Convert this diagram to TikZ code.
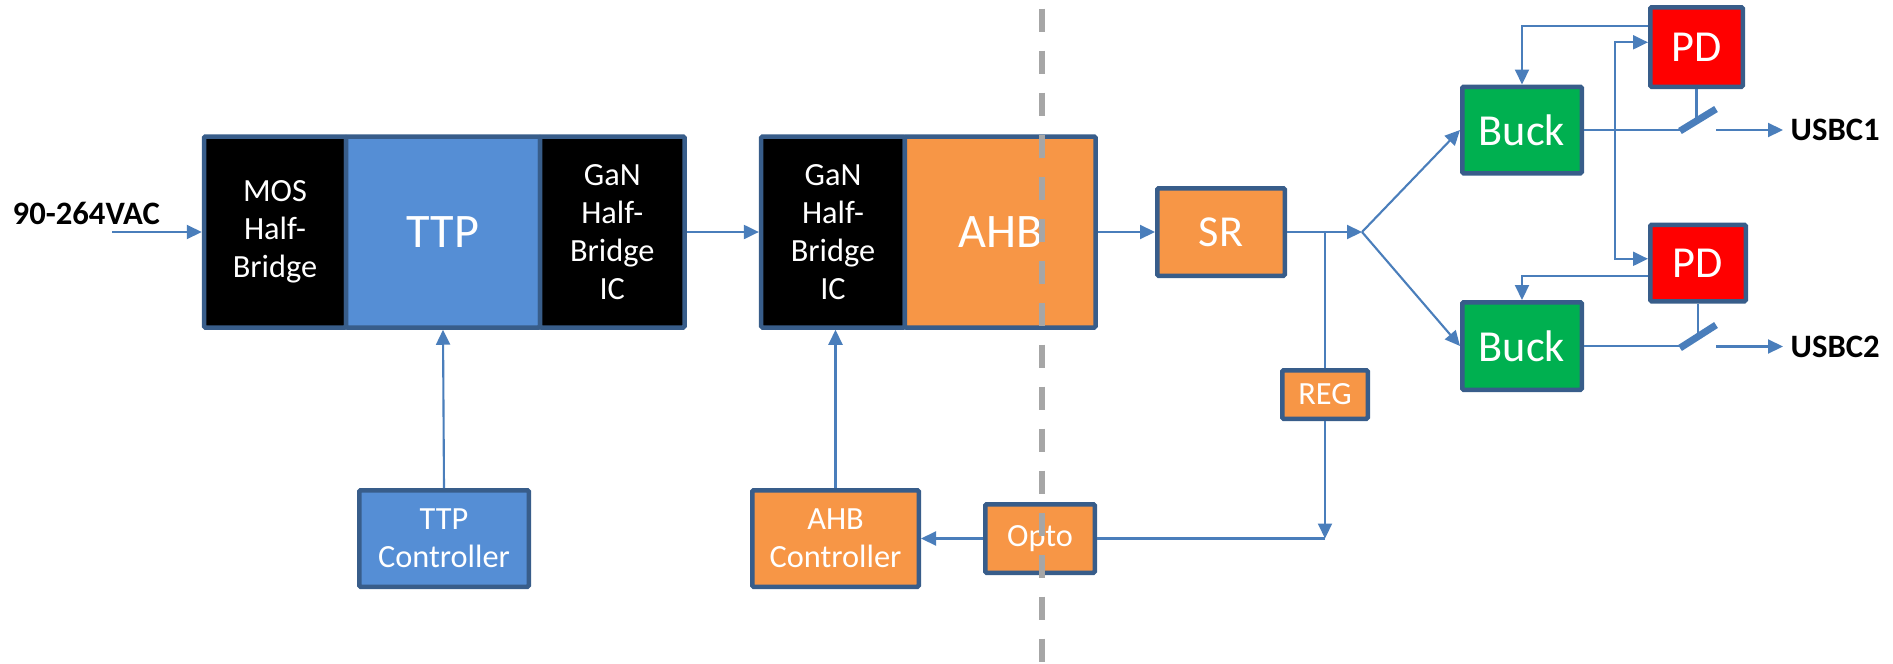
\documentclass[tikz,border=0pt]{standalone}
\usepackage{fontspec}
\setmainfont{Carlito}
\usetikzlibrary{positioning,arrows.meta}

\definecolor{linkblue}{HTML}{4A7EBB}
\definecolor{edgeblue}{HTML}{385D8A}
\definecolor{ttpblue}{HTML}{558ED5}
\definecolor{ahborange}{HTML}{F79646}
\definecolor{buckgreen}{HTML}{00B050}
\definecolor{pdred}{HTML}{FF0000}
\definecolor{isogray}{HTML}{A6A6A6}

\tikzset{
  box/.style={draw=edgeblue, line width=0.045cm, text=white, align=center, inner sep=0pt, rounded corners=0.4pt},
  bigtxt/.style={font=\fontsize{13.7}{16}\selectfont},
  midtxt/.style={font=\fontsize{12.6}{15}\selectfont},
  smalltxt/.style={font=\fontsize{9.2}{10.8}\selectfont},
  tinytxt/.style={font=\fontsize{9.2}{11}\selectfont},
  link/.style={draw=linkblue, line width=0.6pt},
  arr/.style={link, -{Triangle[length=0.15cm,width=0.14cm]}},
  blade/.style={draw=linkblue, line width=0.07cm},
  divider/.style={draw=isogray, line width=0.06cm, dash pattern=on 0.23cm off 0.19cm},
  port/.style={font=\fontsize{9.3}{11}\selectfont\bfseries, inner sep=0pt}
}

\begin{document}
\begin{tikzpicture}[x=1cm,y=1cm]
\useasboundingbox (0,0) rectangle (18.93,6.63);

\node[port, anchor=west] (vac) at (0.12,4.495) {90-264VAC};
\coordinate (acin) at (1.12,4.31);

\node[box, smalltxt, fill=black, minimum width=1.42cm, minimum height=1.91cm] (mos) at (2.75,4.31) {MOS\\Half-\\Bridge};
\node[box, bigtxt, fill=ttpblue, minimum width=1.94cm, minimum height=1.91cm, right=-0.045cm of mos] (ttp) {TTP};
\node[box, smalltxt, fill=black, minimum width=1.445cm, minimum height=1.91cm, right=-0.045cm of ttp] (gan1) {GaN\\Half-\\Bridge\\IC};

\node[box, smalltxt, fill=black, minimum width=1.4375cm, minimum height=1.91cm] (gan2) at (8.33,4.31) {GaN\\Half-\\Bridge\\IC};
\node[box, bigtxt, fill=ahborange, minimum width=1.9075cm, minimum height=1.91cm, right=-0.045cm of gan2] (ahb) {AHB};

\node[box, midtxt, fill=ahborange, minimum width=1.275cm, minimum height=0.875cm] (sr) at (12.21,4.31) {SR};
\coordinate (split) at (13.62,4.31);
\node[box, tinytxt, fill=ahborange, minimum width=0.855cm, minimum height=0.485cm] (reg) at (13.25,2.685) {REG};
\node[box, tinytxt, fill=ahborange, minimum width=1.095cm, minimum height=0.685cm] (opto) at (10.40,1.245) {Opto};
\node[box, smalltxt, fill=ahborange, minimum width=1.665cm, minimum height=0.965cm] (ahbc) at (8.355,1.245) {AHB\\Controller};
\node[box, smalltxt, fill=ttpblue, minimum width=1.695cm, minimum height=0.965cm] (ttpc) at (4.44,1.245) {TTP\\Controller};

\node[box, midtxt, fill=buckgreen, minimum width=1.195cm, minimum height=0.865cm] (buck1) at (15.22,5.33) {Buck};
\node[box, midtxt, fill=buckgreen, minimum width=1.195cm, minimum height=0.875cm] (buck2) at (15.22,3.17) {Buck};
\node[box, midtxt, fill=pdred, minimum width=0.925cm, minimum height=0.795cm] (pd1) at (16.965,6.16) {PD};
\node[box, midtxt, fill=pdred, minimum width=0.955cm, minimum height=0.765cm] (pd2) at (16.98,4.00) {PD};
\coordinate (pdbus) at (16.15,5.0);

\coordinate (sw1a) at (16.80,5.32);
\coordinate (sw1b) at (17.16,5.54);
\coordinate (sw1m) at (16.965,5.44);
\coordinate (out1) at (17.16,5.33);
\node[port, anchor=west] (usb1) at (17.90,5.33) {USBC1};
\coordinate (sw2a) at (16.80,3.15);
\coordinate (sw2b) at (17.16,3.38);
\coordinate (sw2m) at (16.98,3.27);
\coordinate (out2) at (17.16,3.165);
\node[port, anchor=west] (usb2) at (17.90,3.165) {USBC2};

\draw[arr] (acin) -- (mos.west |- acin);
\draw[arr] (gan1.east) -- (gan2.west);
\draw[arr] (ahb.east) -- (sr.west);
\draw[arr] (sr.east) -- (split);
\draw[arr] (split) -- (buck1.west);
\draw[arr] (split) -- (buck2.west);
\draw[link] (reg.north) -- (reg.north |- sr.east);
\coordinate (fbk) at (reg.south |- opto.east);
\draw[arr] (reg.south) -- (fbk);
\draw[link] (fbk) -- (opto.east);
\draw[arr] (opto.west) -- (ahbc.east);
\draw[arr] (ahbc.north) -- (ahbc.north |- gan2.south);
\draw[arr] (ttpc.north) -- (ttp.south);

\draw[arr] ([yshift=0.21cm]pd1.west) -| (buck1.north);
\draw[arr] ([yshift=-0.127cm]pd2.west) -| (buck2.north);
\draw[link, {Triangle[length=0.15cm,width=0.14cm]}-{Triangle[length=0.15cm,width=0.14cm]}] ([yshift=0.047cm]pd1.west) -| (pdbus) |- ([yshift=0.042cm]pd2.west);

\draw[link] (buck1.east) -- (buck1.east -| sw1a);
\draw[blade] (sw1a) -- (sw1b);
\draw[link] (pd1.south) -- (sw1m);
\draw[arr] (out1) -- ([xshift=-0.07cm]usb1.west);
\draw[link] (buck2.east) -- (buck2.east -| sw2a);
\draw[blade] (sw2a) -- (sw2b);
\draw[link] (pd2.south) -- (sw2m);
\draw[arr] (out2) -- ([xshift=-0.07cm]usb2.west);

\draw[divider] (10.42,6.545) -- (10.42,0);
\end{tikzpicture}
\end{document}
